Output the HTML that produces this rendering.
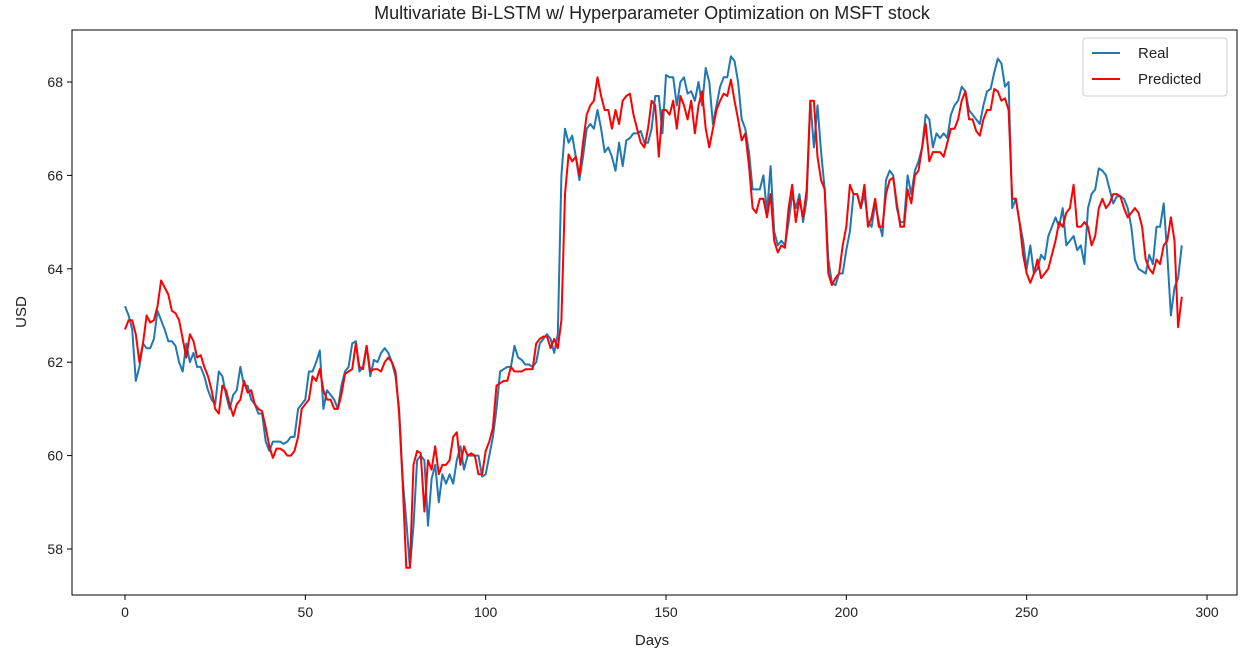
<!DOCTYPE html>
<html><head><meta charset="utf-8"><style>
body{margin:0;background:#fff;}
svg text{font-family:"Liberation Sans","DejaVu Sans",sans-serif;fill:#222;}
</style></head><body>
<svg id="chart" width="1254" height="656" xmlns="http://www.w3.org/2000/svg">
<rect width="1254" height="656" fill="#fff"/>
<text x="652" y="19" text-anchor="middle" font-size="18">Multivariate Bi-LSTM w/ Hyperparameter Optimization on MSFT stock</text>
<text x="652" y="645" text-anchor="middle" font-size="15">Days</text>
<text x="26" y="312" text-anchor="middle" font-size="15" transform="rotate(-90 26 312)">USD</text>
<g id="grid"></g>
<g id="series"></g>
<rect x="72" y="30" width="1165" height="565" fill="none" stroke="#000" stroke-width="1"/>
<g>
<rect x="1083" y="38" width="144" height="58" rx="3" fill="#fff" stroke="#ccc"/>
<line x1="1092" y1="53" x2="1120" y2="53" stroke="#1f77b4" stroke-width="2"/>
<text x="1138" y="58" font-size="15">Real</text>
<line x1="1092" y1="79" x2="1120" y2="79" stroke="#ff0000" stroke-width="2"/>
<text x="1138" y="84" font-size="15">Predicted</text>
</g>
</svg>
<script>
const xTicks=[0,50,100,150,200,250,300];
const yTicks=[58,60,62,64,66,68];
const realValues=[63.2,63.0,62.7,61.6,61.9,62.4,62.3,62.3,62.5,63.1,62.9,62.7,62.45,62.45,62.35,62.0,61.8,62.4,62.0,62.2,
61.9,61.9,61.7,61.4,61.2,61.1,61.8,61.7,61.3,61.0,61.3,61.4,61.9,61.5,61.5,61.2,61.1,60.9,60.9,60.3,
60.1,60.3,60.3,60.3,60.25,60.3,60.4,60.4,61.0,61.1,61.2,61.8,61.8,62.0,62.25,61.0,61.4,61.3,61.2,61.0,
61.5,61.8,61.9,62.4,62.45,61.8,61.9,62.35,61.7,62.05,62.0,62.2,62.3,62.2,62.0,61.7,61.0,59.5,58.6,57.6,
58.5,59.9,60.0,59.9,58.5,59.5,59.8,59.0,59.6,59.4,59.6,59.4,59.9,60.2,59.7,60.0,60.0,60.0,60.0,59.55,
59.6,60.0,60.4,61.0,61.8,61.85,61.9,61.9,62.35,62.1,62.05,61.95,61.95,61.9,62.0,62.4,62.5,62.6,62.5,62.2,62.6,
66.0,67.0,66.7,66.85,66.4,65.9,66.4,67.0,67.1,67.0,67.4,67.0,66.5,66.6,66.4,66.1,66.7,66.2,66.75,66.8,66.9,66.9,66.95,66.7,66.7,67.0,67.7,67.7,66.9,68.15,68.1,68.1,67.5,68.0,68.1,67.75,67.8,67.6,68.0,67.5,68.3,68.0,67.1,67.5,67.9,68.1,68.1,68.55,68.45,68.0,67.2,67.0,66.5,65.7,65.7,65.7,66.0,65.2,66.2,64.8,64.5,64.6,64.5,65.0,65.6,65.3,65.6,65.0,65.5,67.6,66.6,67.5,66.5,65.7,64.2,63.7,63.65,63.9,63.9,64.4,64.8,65.6,65.6,65.3,65.6,65.0,64.9,65.4,65.0,64.7,65.9,66.1,66.0,65.3,65.0,65.0,66.0,65.6,66.1,66.3,66.6,67.3,67.2,66.6,66.9,66.8,66.9,66.8,67.3,67.5,67.6,67.9,67.8,67.4,67.3,67.2,67.1,67.5,67.8,67.85,68.2,68.5,68.4,67.9,68.0,65.3,65.5,65.0,64.6,64.0,64.5,63.9,64.0,64.3,64.2,64.7,64.9,65.1,64.9,65.3,64.5,64.6,64.7,64.4,64.5,64.1,65.3,65.6,65.7,66.15,66.1,66.0,65.7,65.4,65.55,65.55,65.5,65.3,64.9,64.2,64.0,63.95,63.9,64.3,64.1,64.9,64.9,65.4,64.3,63.0,63.6,63.8,64.5];
const predictedValues=[62.7,62.9,62.9,62.6,62.0,62.4,63.0,62.85,62.9,63.2,63.75,63.6,63.45,63.1,63.05,62.9,62.5,62.1,62.6,62.45,
62.1,62.15,61.9,61.7,61.4,61.0,60.9,61.5,61.4,61.1,60.85,61.1,61.2,61.6,61.35,61.4,61.1,61.0,60.95,60.6,
60.2,59.95,60.15,60.15,60.1,60.0,60.0,60.1,60.4,61.0,61.1,61.2,61.7,61.6,61.85,61.4,61.2,61.2,61.0,61.0,
61.3,61.75,61.8,61.85,62.4,61.9,61.85,62.35,61.8,61.85,61.85,61.8,62.0,62.1,62.0,61.8,60.9,59.4,57.6,57.6,
59.8,60.1,60.05,58.8,59.9,59.7,60.2,59.6,59.8,59.8,59.9,60.4,60.5,59.8,60.2,60.0,60.05,60.0,59.6,59.6,
60.1,60.3,60.6,61.5,61.55,61.6,61.6,61.9,61.8,61.8,61.8,61.85,61.85,61.85,62.4,62.5,62.55,62.55,62.3,62.5,62.3,62.9,65.6,66.45,66.3,66.4,66.0,66.7,67.3,67.5,67.6,68.1,67.7,67.4,67.4,67.0,67.4,67.1,67.6,67.7,67.75,67.3,67.0,66.7,66.6,67.0,67.6,67.5,66.4,67.4,67.4,67.3,67.6,67.0,67.7,67.5,67.2,67.6,66.9,67.5,67.8,67.0,66.6,67.0,67.4,67.6,67.75,67.7,68.05,67.6,67.2,66.75,66.9,66.2,65.3,65.2,65.5,65.5,65.1,65.6,64.6,64.35,64.5,64.45,65.3,65.8,65.0,65.5,65.1,65.7,67.6,67.6,66.4,65.9,65.7,63.9,63.65,63.8,63.9,64.5,64.9,65.8,65.6,65.6,65.3,65.8,64.9,65.1,65.5,64.9,64.9,65.6,65.9,65.95,65.4,64.9,64.9,65.7,65.4,66.0,66.1,66.6,67.1,66.3,66.5,66.5,66.5,66.4,66.7,67.0,67.0,67.2,67.6,67.8,67.2,67.2,66.95,66.85,67.2,67.4,67.4,67.85,67.8,67.6,67.65,67.4,65.5,65.5,65.0,64.3,63.9,63.7,63.9,64.2,63.8,63.9,64.0,64.3,64.6,65.0,64.9,65.2,65.3,65.8,64.9,64.9,65.0,64.9,64.5,64.7,65.3,65.5,65.3,65.4,65.6,65.6,65.55,65.3,65.1,65.2,65.3,65.2,64.9,64.2,64.0,63.9,64.2,64.1,64.5,64.6,65.1,64.6,62.75,63.4];

const NS='http://www.w3.org/2000/svg';
const xS=d=>125+d*(1207-125)/300;
const yS=v=>549-(v-58)*(549-82)/10;
const grid=document.getElementById('grid');
const ser=document.getElementById('series');
xTicks.forEach(t=>{
  const l=document.createElementNS(NS,'line');
  
  
  l.setAttribute('x1',xS(t));l.setAttribute('x2',xS(t));l.setAttribute('y1',595);l.setAttribute('y2',600);l.setAttribute('stroke','#000');
  grid.appendChild(l);
  const tx=document.createElementNS(NS,'text');
  
  
  tx.setAttribute('x',xS(t));tx.setAttribute('y',617);tx.setAttribute('text-anchor','middle');tx.setAttribute('font-size','14');
  tx.textContent=t;grid.appendChild(tx);
});
yTicks.forEach(t=>{
  const l=document.createElementNS(NS,'line');
  
  
  l.setAttribute('x1',67);l.setAttribute('x2',72);l.setAttribute('y1',yS(t));l.setAttribute('y2',yS(t));l.setAttribute('stroke','#000');
  grid.appendChild(l);
  const tx=document.createElementNS(NS,'text');
  
  
  tx.setAttribute('x',63);tx.setAttribute('y',yS(t)+5);tx.setAttribute('text-anchor','end');tx.setAttribute('font-size','14');
  tx.textContent=t;grid.appendChild(tx);
});
function drawLine(vals,color,name){
  const p=document.createElementNS(NS,'polyline');
  
  
  p.setAttribute('points',vals.map((v,i)=>xS(i).toFixed(1)+','+yS(v).toFixed(1)).join(' '));
  p.setAttribute('fill','none');p.setAttribute('stroke',color);p.setAttribute('stroke-width','2');p.setAttribute('stroke-linejoin','round');
  ser.appendChild(p);
}
drawLine(realValues,'#1f77b4','real-line');
drawLine(predictedValues,'#ff0000','predicted-line');
</script>
</body></html>
